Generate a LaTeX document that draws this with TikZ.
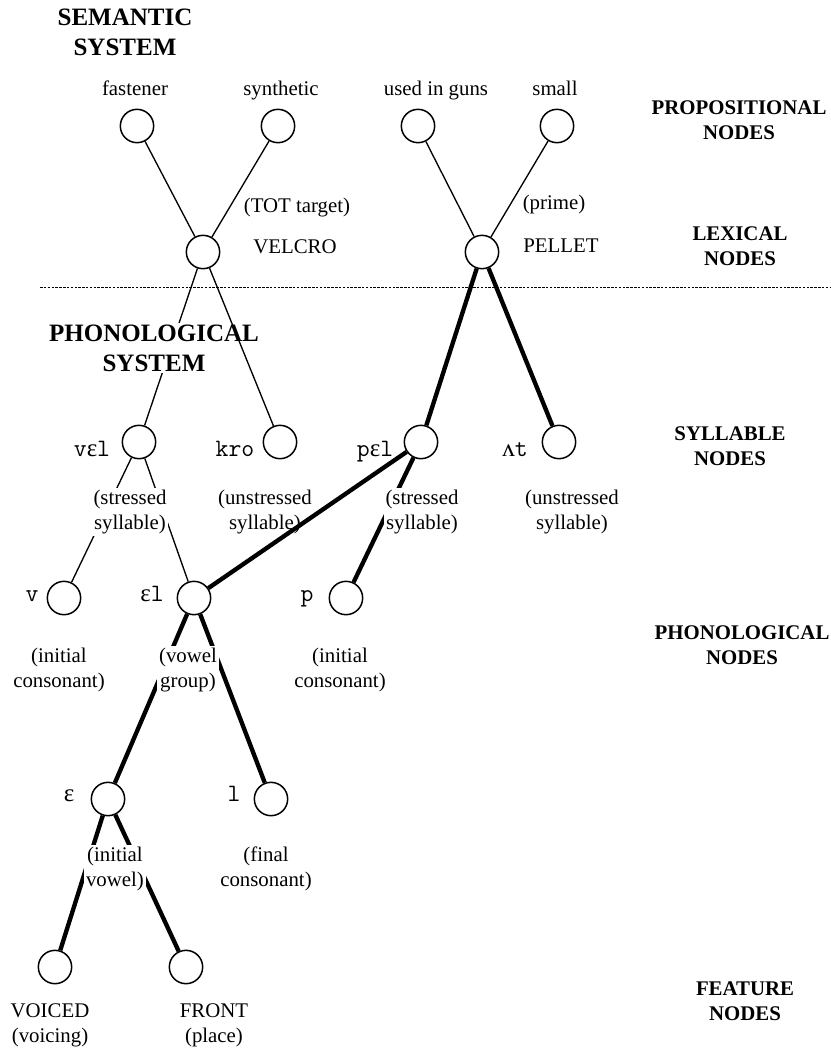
\documentclass[tikz,border=0pt]{standalone}
\usepackage{fontspec}
\setmainfont{Liberation Serif}
\newfontfamily\ipafont{Liberation Serif}
\newcommand\ipaeps{{\ipafont ɛ}}
\newcommand\ipavee{{\ipafont ʌ}}
\begin{document}
\begin{tikzpicture}[x=0.6pt, y=-0.6pt,
  unit/.style={draw, circle, line width=0.9pt, minimum size=20pt, inner sep=0pt},
  weak/.style={line width=0.8pt},
  strong/.style={line width=2.6pt},
  word/.style={font=\fontsize{12.5}{15}\selectfont, anchor=base, inner sep=1pt},
  gloss/.style={font=\fontsize{12.5}{15}\selectfont, align=center, inner sep=1pt, fill=white},
  sym/.style={font=\fontsize{15}{15}\selectfont\ttfamily, anchor=base, inner sep=1pt},
  level/.style={font=\fontsize{12.5}{15}\selectfont\bfseries, align=center},
  system/.style={font=\fontsize{15}{18}\selectfont\bfseries, align=center, inner sep=1pt}]
  \useasboundingbox (0,0) rectangle (831,1053);

  % units
  \node[unit] (fast)   at (137,126) {};
  \node[unit] (synth)  at (278,126) {};
  \node[unit] (guns)   at (418,126) {};
  \node[unit] (small)  at (557,126) {};
  \node[unit] (velcro) at (203,252) {};
  \node[unit] (pellet) at (482,252) {};
  \node[unit] (vel)    at (139,442) {};
  \node[unit] (kro)    at (280,442) {};
  \node[unit] (pel)    at (421,442) {};
  \node[unit] (at)     at (559,442) {};
  \node[unit] (v)      at (64,598) {};
  \node[unit] (el)     at (194,598) {};
  \node[unit] (p)      at (346,598) {};
  \node[unit] (eps)    at (108,799) {};
  \node[unit] (l)      at (271,799) {};
  \node[unit] (voiced) at (55,967) {};
  \node[unit] (front)  at (186,967) {};

  % system boundary
  \coordinate (cut west) at (40,287);
  \coordinate (cut east) at (831,287);
  \draw[line width=0.5pt, dash pattern=on 1.5pt off 0.8pt] (cut west) -- (cut east);

  % links that run behind the glosses
  \draw[weak] (velcro) -- (vel);
  \foreach \a/\b in {vel/v, vel/el} \draw[weak] (\a) -- (\b);
  \foreach \a/\b in {pel/p, el/eps, el/l, eps/voiced, eps/front} \draw[strong] (\a) -- (\b);

  % system titles
  \node[system] (semsys) at (125,32) {SEMANTIC\\SYSTEM};
  \node[system, fill=white] (phonsys) at (154,348) {PHONOLOGICAL\\SYSTEM};

  % level titles
  \node[level] (proplev) at (739,120) {PROPOSITIONAL\\NODES};
  \node[level] (lexlev)  at (740,246) {LEXICAL\\NODES};
  \node[level] (syllev)  at (730,446) {SYLLABLE\\NODES};
  \node[level] (phonlev) at (742,645) {PHONOLOGICAL\\NODES};
  \node[level] (featlev) at (745,1001) {FEATURE\\NODES};

  % words
  \node[word] (fastlab)   at (135,95) {fastener};
  \node[word] (synthlab)  at (281,95) {synthetic};
  \node[word] (gunslab)   at (436,95) {used in guns};
  \node[word] (smalllab)  at (555,95) {small};
  \node[word] (totlab)    at (297,212) {(TOT target)};
  \node[word] (velcrolab) at (295,253) {VELCRO};
  \node[word] (primelab)  at (554,209) {(prime)};
  \node[word] (pelletlab) at (561,252) {PELLET};

  % phonological symbols
  \node[sym] (vellab) at (92,456) {v\ipaeps l};
  \node[sym] (krolab) at (235,456) {kro};
  \node[sym] (pellab) at (375,456) {p\ipaeps l};
  \node[sym] (atlab)  at (515,456) {\ipavee t};
  \node[sym] (vlab)   at (32,601) {v};
  \node[sym] (ellab)  at (152,601) {\ipaeps l};
  \node[sym] (plab)   at (307,601) {p};
  \node[sym] (epslab) at (69,801) {\ipaeps};
  \node[sym] (llab)   at (234,801) {l};

  % glosses
  \node[gloss] (velg)    at (130,512) {(stressed\\syllable)};
  \node[gloss] (krog)    at (265,512) {(unstressed\\syllable)};
  \node[gloss] (pelg)    at (422,512) {(stressed\\syllable)};
  \node[gloss] (atg)     at (572,512) {(unstressed\\syllable)};
  \node[gloss] (vg)      at (59,670) {(initial\\consonant)};
  \node[gloss] (elg)     at (188,670) {(vowel\\group)};
  \node[gloss] (pg)      at (340,670) {(initial\\consonant)};
  \node[gloss] (epsg)    at (115,869) {(initial\\vowel)};
  \node[gloss] (lg)      at (266,869) {(final\\consonant)};
  \node[gloss] (voicedg) at (50,1025) {VOICED\\(voicing)};
  \node[gloss] (frontg)  at (214,1025) {FRONT\\(place)};

  % remaining links
  \foreach \a/\b in {fast/velcro, synth/velcro, guns/pellet, small/pellet, velcro/kro} \draw[weak] (\a) -- (\b);
  \foreach \a/\b in {pellet/pel, pellet/at, pel/el} \draw[strong] (\a) -- (\b);
\end{tikzpicture}
\end{document}
